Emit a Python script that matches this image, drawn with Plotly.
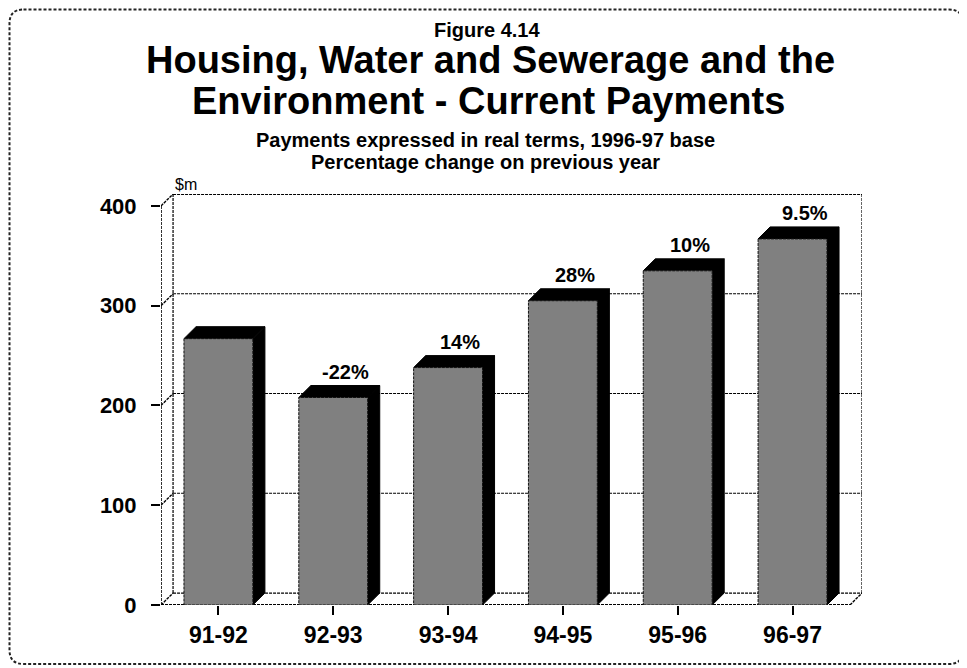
import plotly.graph_objects as go

# ---- data ----
categories = ["91-92", "92-93", "93-94", "94-95", "95-96", "96-97"]
payments = [267, 208, 238, 305, 335, 367]
pct_labels = ["", "-22%", "14%", "28%", "10%", "9.5%"]
y_ticks = [0, 100, 200, 300, 400]

# ---- geometry ----
# The page has an 8px body margin, so page pixel p is figure pixel p - OFF.
OFF = 8
W, H = 967 - OFF, 668 - OFF
L, R, T, B = 161 - OFF, 862 - OFF, 194 - OFF, 605 - OFF   # plot area (figure px)
DX = 0.105          # depth offset in category units
DY = 12             # depth offset in value units
HALF = 0.3          # half bar width
FONT = "Liberation Sans, Arial, Helvetica, sans-serif"
DASH = "3px,1px"

n = len(categories)
xs = list(range(n))
x0, x1 = -0.5, n - 0.5
ytop = y_ticks[-1]

fig = go.Figure()


def line(xv, yv, width=1.2, dash=DASH):
    fig.add_trace(go.Scatter(x=xv, y=yv, mode="lines",
                             line=dict(color="black", width=width, dash=dash),
                             hoverinfo="skip", showlegend=False))


# back wall grid lines (incl. floor back edge)
for t in y_ticks:
    line([x0 + DX, x1 + DX], [t + DY, t + DY], width=2 if t == ytop else 1.2)
# left wall: front & back verticals and diagonals
line([x0, x0], [0, ytop], width=1.6)
line([x0 + DX, x0 + DX], [DY, ytop + DY], width=1.2)
for t in y_ticks:
    line([x0, x0 + DX], [t, t + DY], width=1.4)
# right back edge
line([x1 + DX, x1 + DX], [DY, ytop + DY], width=1.2)
# floor front edge and right diagonal
line([x0, x1], [0, 0], width=2)
line([x1, x1 + DX], [0, DY], width=1.4)

# bars: side faces, top faces, front faces
side_x, side_y, top_x, top_y, fr_x, fr_y = [], [], [], [], [], []
for i, v in zip(xs, payments):
    side_x += [i + HALF, i + HALF, i + HALF + DX, i + HALF + DX, i + HALF, None]
    side_y += [0, v, v + DY, DY, 0, None]
    top_x += [i - HALF, i + HALF, i + HALF + DX, i - HALF + DX, i - HALF, None]
    top_y += [v, v, v + DY, v + DY, v, None]
    fr_x += [i - HALF, i + HALF, i + HALF, i - HALF, i - HALF, None]
    fr_y += [0, 0, v, v, 0, None]

fig.add_trace(go.Scatter(x=side_x, y=side_y, mode="lines", fill="toself",
                         fillcolor="black", line=dict(color="black", width=1),
                         hoverinfo="skip", showlegend=False))
fig.add_trace(go.Scatter(x=top_x, y=top_y, mode="lines", fill="toself",
                         fillcolor="black", line=dict(color="black", width=1),
                         hoverinfo="skip", showlegend=False))
fig.add_trace(go.Scatter(x=fr_x, y=fr_y, mode="lines", fill="toself",
                         fillcolor="#808080",
                         line=dict(color="#111111", width=1, dash=DASH),
                         hoverinfo="skip", showlegend=False))

# percentage labels
annotations = []
for i, v, lab in zip(xs, payments, pct_labels):
    if lab:
        annotations.append(dict(x=i + DX, y=v + DY, xref="x", yref="y",
                                text="<b>%s</b>" % lab, showarrow=False,
                                yanchor="bottom", yshift=1,
                                font=dict(family=FONT, size=20, color="black")))


def pxx(px):
    """page pixel x -> paper x"""
    return (px - OFF - L) / (R - L)


def pxy(py):
    """page pixel y -> paper y"""
    return (B - (py - OFF)) / (B - T)


def ptext(text, cx, cy, size, bold=True):
    annotations.append(dict(x=pxx(cx), y=pxy(cy), xref="paper", yref="paper",
                            text=("<b>%s</b>" % text) if bold else text,
                            showarrow=False, xanchor="center", yanchor="middle",
                            font=dict(family=FONT, size=size, color="black")))


ptext("Figure 4.14", 487, 30, 20)
ptext("Housing, Water and Sewerage and the", 490, 60, 38)
ptext("Environment - Current Payments", 488, 101, 38)
ptext("Payments expressed in real terms, 1996-97 base", 485, 140, 20)
ptext("Percentage change on previous year", 485, 162, 20)
ptext("$m", 186, 184, 16, bold=False)

# rounded frame (page pixels)
fl, fr, ft, fb, rad = 9.5, 963, 9.5, 664, 14
path = ("M {a},{b} L {c},{b} Q {r},{b} {r},{d} L {r},{e} Q {r},{bb} {c},{bb} "
        "L {a},{bb} Q {l},{bb} {l},{e} L {l},{d} Q {l},{b} {a},{b} Z").format(
    a=pxx(fl + rad), b=pxy(ft), c=pxx(fr - rad), r=pxx(fr), d=pxy(ft + rad),
    e=pxy(fb - rad), bb=pxy(fb), l=pxx(fl))
shapes = [dict(type="path", xref="paper", yref="paper", path=path,
               line=dict(color="#222222", width=2, dash="3px,2px"))]

fig.update_layout(
    width=W, height=H,
    margin=dict(l=L, r=W - R, t=T, b=H - B, autoexpand=False),
    paper_bgcolor="white", plot_bgcolor="white",
    showlegend=False,
    annotations=annotations,
    shapes=shapes,
    xaxis=dict(range=[x0, x1 + DX], tickmode="array", tickvals=xs,
               ticktext=categories, ticks="outside", ticklen=9,
               tickcolor="black", tickwidth=1.5, showgrid=False,
               zeroline=False, showline=False, fixedrange=True,
               tickfont=dict(family=FONT, size=23, color="black", weight="bold")),
    yaxis=dict(range=[0, ytop + DY], tickmode="array", tickvals=y_ticks,
               ticks="outside", ticklen=9, tickcolor="black", tickwidth=1.5,
               showgrid=False, zeroline=False, showline=False, fixedrange=True,
               ticklabelstandoff=10,
               tickfont=dict(family=FONT, size=22, color="black", weight="bold")),
)

fig.write_html("out.html")
